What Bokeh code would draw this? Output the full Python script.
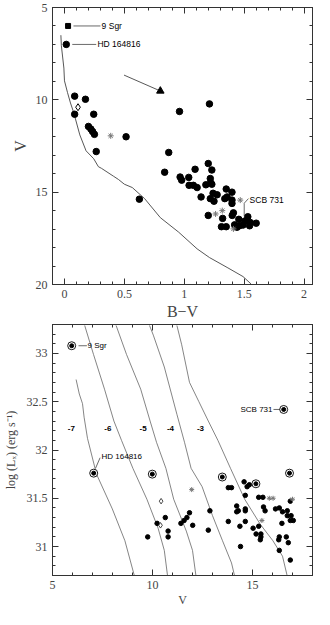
from bokeh.plotting import figure
from bokeh.layouts import column
from bokeh.models import Range1d, LinearAxis, SingleIntervalTicker, CustomJSTickFormatter
from bokeh.core.properties import value
from bokeh.embed import file_html
from bokeh.resources import INLINE

# ---------------- top panel: colour-magnitude diagram ----------------
zams_bv = [-0.03, -0.026, -0.005, 0.0, 0.025, 0.05, 0.077, 0.128, 0.18, 0.244, 0.283, 0.309,
           0.41, 0.45, 0.50, 0.566, 0.669, 0.80, 0.952, 1.107, 1.21, 1.364, 1.49, 1.557]
zams_v = [6.5, 7.07, 8.28, 8.97, 9.6, 10.17, 10.69, 11.9, 12.76, 13.19, 13.62, 13.71,
          14.14, 14.31, 14.57, 14.75, 15.35, 16.38, 17.16, 18.07, 18.54, 19.1, 19.57, 19.97]

cmd_bv = [0.015, 0.085, 0.175, 0.085, 0.244, 0.20, 0.22, 0.235, 0.25, 0.514, 0.265, 0.87,
          0.96, 1.21, 0.836, 0.625, 1.20, 1.23, 1.09, 0.965, 0.978, 1.037, 1.04, 1.076,
          1.107, 1.217, 1.22, 1.18, 1.23, 1.14, 1.217, 1.24, 1.274, 1.248, 1.35, 1.398,
          1.338, 1.357, 1.398, 1.398, 1.20, 1.32, 1.31, 1.35, 1.40, 1.41, 1.42, 1.44,
          1.455, 1.49, 1.53, 1.506, 1.55, 1.545, 1.60, 1.46]
cmd_v = [7.0, 9.8, 9.97, 10.78, 10.78, 11.44, 11.58, 11.72, 11.87, 12.0, 12.8, 12.85,
         10.63, 10.22, 13.92, 15.38, 13.45, 13.8, 13.76, 14.18, 14.35, 14.2, 14.63, 14.63,
         14.75, 14.26, 14.49, 14.6, 14.57, 15.26, 15.35, 15.06, 15.14, 15.49, 14.83, 15.0,
         15.35, 15.26, 15.43, 15.61, 16.26, 16.42, 16.87, 16.87, 16.26, 16.12, 16.77, 16.9,
         16.47, 16.78, 16.33, 16.56, 16.64, 16.82, 16.68, 16.82]

cmd_star_bv = [0.386, 1.467, 1.261, 1.317, 1.41]
cmd_star_v = [11.95, 15.43, 16.18, 16.0, 16.99]
cmd_diamond_bv = [0.113]
cmd_diamond_v = [10.4]
sgr9_bv = [0.03]
sgr9_v = [6.0]
tri_bv = [0.80]
tri_v = [9.52]
arrow_bv = [0.497, 0.80]
arrow_v = [8.66, 9.52]

cmd_lab_text = ["9 Sgr", "HD 164816", "SCB 731"]
cmd_lab_bv = [0.31, 0.275, 1.545]
cmd_lab_v = [6.0, 7.0, 15.45]
cmd_lead_x0 = [0.075, 0.065, 1.535]
cmd_lead_y0 = [6.0, 7.0, 15.35]
cmd_lead_x1 = [0.30, 0.265, 1.50]
cmd_lead_y1 = [6.0, 7.0, 15.6]
cmd_lead2_x0 = [1.50]
cmd_lead2_y0 = [15.6]
cmd_lead2_x1 = [1.50]
cmd_lead2_y1 = [16.3]

# ---------------- bottom panel: X-ray luminosity vs V ----------------
iso_labels = ["-7", "-6", "-5", "-4", "-3"]
iso_lab_v = [5.94, 7.77, 9.53, 10.9, 12.4]
iso_lab_lx = [32.22, 32.22, 32.22, 32.22, 32.22]

iso7_v = [6.18, 6.34, 6.5, 6.58, 6.75, 7.2, 7.99, 8.62, 9.09]
iso7_lx = [32.73, 32.58, 32.48, 32.34, 32.12, 31.75, 31.39, 31.06, 30.70]
iso6_v = [6.61, 7.05, 7.6, 8.07, 8.45, 9.02, 9.72, 10.28, 10.59, 10.75]
iso6_lx = [33.29, 32.99, 32.63, 32.30, 32.10, 31.81, 31.49, 31.19, 30.96, 30.70]
iso5_v = [8.18, 8.70, 9.41, 9.88, 10.2, 10.67, 11.06, 11.69, 12.0, 12.17]
iso5_lx = [33.29, 32.99, 32.63, 32.30, 32.08, 31.81, 31.49, 31.16, 30.96, 30.70]
iso4_v = [9.85, 10.04, 10.59, 11.22, 11.6, 11.93, 12.48, 13.0, 13.5, 13.95, 14.10]
iso4_lx = [33.29, 33.19, 32.86, 32.37, 32.08, 31.81, 31.62, 31.32, 31.06, 30.83, 30.70]
iso3_v = [11.22, 11.46, 11.85, 12.32, 12.79, 13.27, 13.9, 14.61, 15.39, 16.02, 16.5, 16.73]
iso3_lx = [33.29, 33.09, 32.70, 32.50, 32.30, 32.10, 31.81, 31.49, 31.23, 31.06, 30.90, 30.70]

xr_v = [9.76, 10.23, 10.64, 10.78, 10.78, 11.42, 11.58, 11.72, 11.85, 12.01, 12.87, 12.79,
        13.79, 13.95, 13.79, 14.21, 14.21, 14.29, 14.37, 14.40, 14.58, 14.64, 14.64, 14.64,
        14.64, 14.73, 14.84, 15.03, 15.18, 15.31, 15.52, 15.31, 15.42, 15.42, 15.39, 15.55,
        15.63, 16.15, 16.34, 16.47, 16.31, 16.34, 16.34, 16.50, 16.69, 16.74, 16.74, 16.79,
        16.89, 16.93, 16.89, 17.04, 16.89]
xr_lx = [31.10, 31.24, 31.30, 31.16, 31.10, 31.24, 31.27, 31.30, 31.35, 31.22, 31.37, 31.17,
         31.61, 31.61, 31.26, 31.42, 31.36, 31.37, 31.21, 31.00, 31.67, 31.53, 31.39, 31.37,
         31.26, 31.62, 31.64, 31.19, 31.13, 31.51, 31.51, 31.21, 31.13, 31.10, 31.07, 31.41,
         31.37, 31.39, 31.40, 31.24, 31.07, 31.10, 30.96, 31.36, 31.10, 31.37, 31.32, 31.04,
         31.47, 31.32, 31.27, 31.27, 30.86]

ring_v = [5.96, 7.06, 9.99, 13.49, 15.17, 16.56, 16.85]
ring_lx = [33.08, 31.76, 31.75, 31.72, 31.65, 32.42, 31.76]
xr_star_v = [11.96, 15.84, 16.03, 17.0, 15.47]
xr_star_lx = [31.59, 31.50, 31.50, 31.49, 31.27]
xr_diamond_v = [10.43, 10.40]
xr_diamond_lx = [31.47, 31.22]

xr_lab_text = ["9 Sgr", "SCB 731", "HD 164816"]
xr_lab_v = [6.75, 16.0, 7.45]
xr_lab_lx = [33.08, 32.42, 31.93]
xr_lab_align = ["left", "right", "left"]
xr_lead_x0 = [6.3, 16.05, 7.15]
xr_lead_y0 = [33.08, 32.42, 31.81]
xr_lead_x1 = [6.72, 16.38, 7.38]
xr_lead_y1 = [33.08, 32.42, 31.92]

FRAME = "#333333"
TICKFONT = "Liberation Serif"


def style_axis(ax, interval, minor, show_labels=True):
    ax.ticker = SingleIntervalTicker(interval=interval, num_minor_ticks=minor)
    ax.major_tick_in = 6
    ax.major_tick_out = 0
    ax.minor_tick_in = 3
    ax.minor_tick_out = 0
    ax.axis_line_color = FRAME
    ax.major_tick_line_color = FRAME
    ax.minor_tick_line_color = FRAME
    ax.major_label_text_font = TICKFONT
    ax.major_label_text_font_size = "12px"
    ax.major_label_text_color = "#444444"
    ax.major_label_standoff = 5
    ax.axis_label_text_font = TICKFONT
    ax.axis_label_text_font_style = "normal"
    ax.axis_label_text_color = "#444444"
    if not show_labels:
        ax.formatter = CustomJSTickFormatter(code="return ''")
        ax.major_label_standoff = 0


def add_frame_axes(p, xint, xminor, yint, yminor):
    ra = LinearAxis()
    style_axis(ra, yint, yminor, show_labels=False)
    p.add_layout(ra, "right")
    ta = LinearAxis()
    style_axis(ta, xint, xminor, show_labels=False)
    p.add_layout(ta, "above")


# ---- top figure ----
p1 = figure(width=314, height=322, x_range=Range1d(-0.1, 2.07), y_range=Range1d(20, 5),
            output_backend="svg", toolbar_location=None,
            min_border_left=35, min_border_right=2, min_border_top=7, min_border_bottom=36,
            x_axis_label="B\u2212V", y_axis_label="V")
p1.grid.visible = False
p1.outline_line_color = FRAME
p1.background_fill_color = "white"
style_axis(p1.xaxis[0], 0.5, 5)
style_axis(p1.yaxis[0], 5, 5)
p1.xaxis[0].axis_label_text_font_size = "16px"
p1.xaxis[0].axis_label_standoff = 2
p1.yaxis[0].axis_label_text_font_size = "16px"
p1.yaxis[0].axis_label_standoff = 4
add_frame_axes(p1, 0.5, 5, 5, 5)

p1.line(zams_bv, zams_v, line_color="#444444", line_width=0.9)
p1.segment(x0=[arrow_bv[0]], y0=[arrow_v[0]], x1=[arrow_bv[1]], y1=[arrow_v[1]],
           line_color="#444444", line_width=0.9)
p1.segment(x0=cmd_lead_x0, y0=cmd_lead_y0, x1=cmd_lead_x1, y1=cmd_lead_y1,
           line_color="#444444", line_width=0.8)
p1.segment(x0=cmd_lead2_x0, y0=cmd_lead2_y0, x1=cmd_lead2_x1, y1=cmd_lead2_y1,
           line_color="#444444", line_width=0.8)
p1.scatter(cmd_bv, cmd_v, marker="circle", size=6.5, color="black")
p1.scatter(sgr9_bv, sgr9_v, marker="square", size=5, color="black")
p1.scatter(tri_bv, tri_v, marker="triangle", size=7.5, color="black")
p1.scatter(cmd_star_bv, cmd_star_v, marker="asterisk", size=6, line_color="#777777", line_width=1)
p1.scatter(cmd_diamond_bv, cmd_diamond_v, marker="diamond", size=7, fill_color="white",
           line_color="black", line_width=1)
p1.text(x=cmd_lab_bv, y=cmd_lab_v, text=cmd_lab_text, text_font=value("Liberation Sans"),
        text_font_size="8.5px", text_baseline="middle", text_align="left", text_color="black")

# ---- bottom figure ----
p2 = figure(width=314, height=287, x_range=Range1d(5, 18), y_range=Range1d(30.7, 33.3),
            output_backend="svg", toolbar_location=None,
            min_border_left=45, min_border_right=2, min_border_top=2, min_border_bottom=30,
            x_axis_label="V", y_axis_label="log (L\u2093) (erg s\u207b\u00b9)")
p2.grid.visible = False
p2.outline_line_color = FRAME
style_axis(p2.xaxis[0], 5, 5)
style_axis(p2.yaxis[0], 0.5, 5)
p2.xaxis[0].axis_label_text_font_size = "12px"
p2.xaxis[0].axis_label_standoff = 1
p2.yaxis[0].axis_label_text_font_size = "12px"
p2.yaxis[0].axis_label_standoff = 6
add_frame_axes(p2, 5, 5, 0.5, 5)

for xs, ys in [(iso7_v, iso7_lx), (iso6_v, iso6_lx), (iso5_v, iso5_lx), (iso4_v, iso4_lx), (iso3_v, iso3_lx)]:
    p2.line(xs, ys, line_color="#666666", line_width=0.8)

p2.segment(x0=xr_lead_x0, y0=xr_lead_y0, x1=xr_lead_x1, y1=xr_lead_y1,
           line_color="#444444", line_width=0.8)
p2.scatter(xr_v, xr_lx, marker="circle", size=4.5, color="black")
p2.scatter(ring_v, ring_lx, marker="circle", size=8, fill_color="white",
           line_color="black", line_width=0.9)
p2.scatter(ring_v, ring_lx, marker="circle", size=4, color="black")
p2.scatter(xr_star_v, xr_star_lx, marker="asterisk", size=5, line_color="#777777", line_width=1)
p2.scatter(xr_diamond_v, xr_diamond_lx, marker="diamond", size=5.5, fill_color="white",
           line_color="#333333", line_width=0.9)
p2.text(x=xr_lab_v, y=xr_lab_lx, text=xr_lab_text, text_align=xr_lab_align,
        text_font=value("Liberation Sans"), text_font_size="8px",
        text_baseline="middle", text_color="black")
p2.text(x=iso_lab_v, y=iso_lab_lx, text=iso_labels, text_align="center",
        text_font=value("Liberation Sans"), text_font_size="8px", text_font_style="bold",
        text_baseline="middle", text_color="black")

layout = column(p1, p2, spacing=0)
open("out.html", "w").write(file_html(layout, INLINE))
